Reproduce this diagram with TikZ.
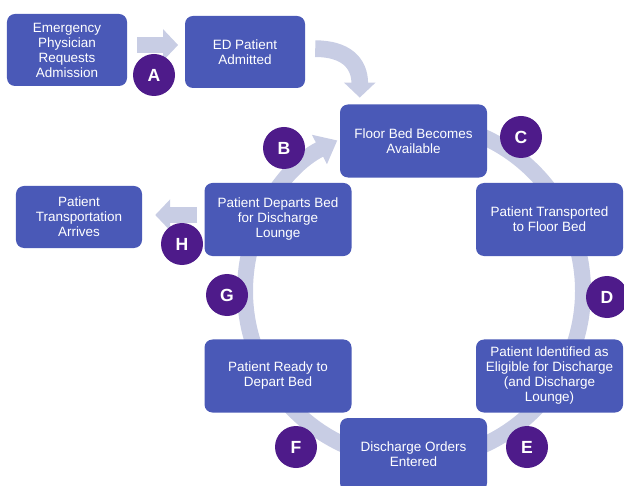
\documentclass[tikz,border=0pt]{standalone}
\usepackage{fontspec}
\setsansfont{Liberation Sans}
\usepackage{tikz}
\usetikzlibrary{arrows.meta,backgrounds}
\definecolor{boxblue}{HTML}{4A59B7}
\definecolor{badgepurple}{HTML}{4E1B8A}
\definecolor{flowgray}{HTML}{C8CDE4}
\tikzset{
  stepbox/.style={fill=boxblue,rounded corners=2.4mm,minimum width=4.41cm,minimum height=2.19cm,
    align=center,text=white,inner sep=2pt,font=\sffamily\fontsize{11.5}{12.8}\selectfont},
  badge/.style={circle,fill=badgepurple,minimum size=1.26cm,inner sep=0pt,text=white,
    font=\sffamily\bfseries\fontsize{15}{15}\selectfont},
  flow/.style={flowgray,line width=0.5cm,-{Triangle[width=0.92cm,length=0.45cm]}},
  ring/.style={flowgray,line width=0.48cm,-{Triangle[width=0.95cm,length=0.6cm]}}
}
\begin{document}
\begin{tikzpicture}[x=0.03cm,y=-0.03cm]
\path[use as bounding box,clip] (0,0) rectangle (624,486);
% steps
\node[stepbox,minimum width=3.6cm,minimum height=2.16cm] (req) at (67,50) {Emergency\\Physician\\Requests\\Admission};
\node[stepbox,minimum width=3.6cm,minimum height=2.16cm] (adm) at (245,52) {ED Patient\\Admitted};
\node[stepbox] (bed) at (413.5,141) {Floor Bed Becomes\\Available};
\node[stepbox] (trp) at (549.5,219.5) {Patient Transported\\to Floor Bed};
\node[stepbox] (elig) at (549.5,376) {Patient Identified as\\Eligible for Discharge\\(and Discharge\\Lounge)};
\node[stepbox] (ord) at (413.5,454.5) {Discharge Orders\\Entered};
\node[stepbox] (ready) at (278,376) {Patient Ready to\\Depart Bed};
\node[stepbox] (dep) at (278,219.5) {Patient Departs Bed\\for Discharge\\Lounge};
\node[stepbox,minimum width=3.78cm,minimum height=1.86cm] (ptrans) at (79,217) {Patient\\Transportation\\Arrives};
\coordinate (hub) at (414,291);
% gray arrows behind the boxes
\begin{scope}[on background layer]
\draw[ring] (hub) ++(-90:169) arc[start angle=-90,end angle=243,radius=169];
\draw[flow,shorten <=0.3cm,shorten >=0.2cm] ([yshift=1.5mm]req.east) -- ([yshift=1.5mm]req.east -| adm.west);
\draw[flow] ([xshift=3mm,yshift=1mm]adm.east) .. controls +(30,0) and +(0,-35) .. ([xshift=6mm,yshift=2mm]bed.north west);
\draw[flow,shorten <=0.21cm,shorten >=0.39cm] ([yshift=1.35mm]dep.west) -- ([yshift=1.35mm]dep.west -| ptrans.east);
\end{scope}
% letters
\foreach \n/\x/\y in {A/154/75,B/284/148,C/521/137,D/607/297,E/527/447,F/296/447,G/227/295,H/182/244}
  \node[badge] (c\n) at (\x,\y) {\n};
\end{tikzpicture}
\end{document}
